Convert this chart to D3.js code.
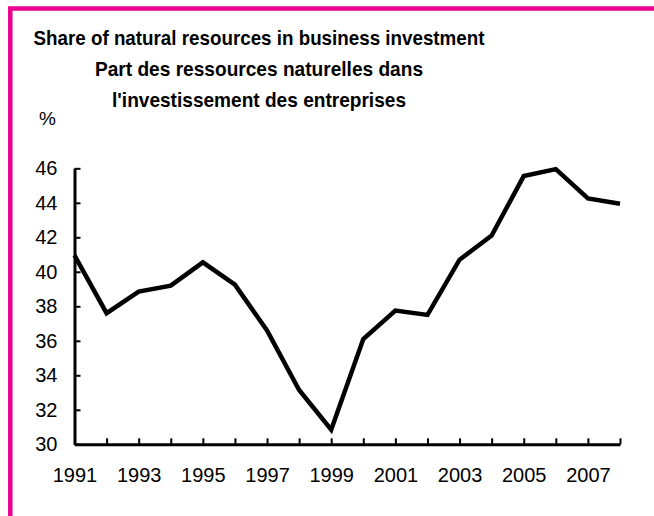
<!DOCTYPE html>
<html>
<head>
<meta charset="utf-8">
<script src="https://cdn.jsdelivr.net/npm/d3@7"></script>
<style>
  body { margin: 0; background: #fff; }
  svg { display: block; font-family: "Liberation Sans", Arial, sans-serif; }
</style>
</head>
<body>
<div class="canvas"></div>
<script>
// data
const years = [1991, 1992, 1993, 1994, 1995, 1996, 1997, 1998, 1999, 2000,
  2001, 2002, 2003, 2004, 2005, 2006, 2007, 2008];
const share = [40.95, 37.6, 38.85, 39.2, 40.55, 39.25, 36.6, 33.15, 30.85, 36.1,
  37.75, 37.5, 40.7, 42.1, 45.55, 45.95, 44.25, 43.95];
const yTicks = [30, 32, 34, 36, 38, 40, 42, 44, 46];
const titleLines = [
  'Share of natural resources in business investment',
  'Part des ressources naturelles dans',
  "l'investissement des entreprises"
];
// title is drawn a little condensed in the original
const titleWidths = [451, 328, 294];

const width = 654;
const height = 516;

const svg = d3.select('.canvas')
  .append('svg')
    .attr('width', width)
    .attr('height', height);

// pink frame (only top and left edges show)
svg.append('path')
  .attr('d', `M10.3,${height} V8.5 H${width}`)
  .attr('fill', 'none')
  .attr('stroke', '#ec008c')
  .attr('stroke-width', 4.5);

// title
svg.append('g')
  .selectAll('text')
  .data(titleLines)
  .enter()
  .append('text')
    .attr('x', 259)
    .attr('y', (d, i) => 45 + i * 31)
    .attr('text-anchor', 'middle')
    .attr('font-weight', 'bold')
    .attr('font-size', 21)
    .attr('textLength', (d, i) => titleWidths[i])
    .attr('lengthAdjust', 'spacingAndGlyphs')
    .attr('fill', '#000')
    .text(d => d);

svg.append('text')
  .attr('x', 39)
  .attr('y', 125)
  .attr('font-size', 19)
  .text('%');

const x = d3.scaleLinear()
  .domain([1991, 2008])
  .range([74.5, 620]);

const y = d3.scaleLinear()
  .domain([30, 46])
  .range([444.3, 168.3]);

const xAxis = d3.axisBottom(x)
  .tickValues(years)
  .tickSizeInner(-6)
  .tickSizeOuter(0)
  .tickPadding(24)
  .tickFormat(d => d % 2 === 1 ? d : '');

const yAxis = d3.axisLeft(y)
  .tickValues(yTicks)
  .tickSizeInner(-6)
  .tickSizeOuter(0)
  .tickPadding(17);

const xAxisGroup = svg.append('g')
  .attr('transform', `translate(0, ${y(30)})`)
  .call(xAxis);

const yAxisGroup = svg.append('g')
  .attr('transform', `translate(${x(1991)}, 0)`)
  .call(yAxis);

[xAxisGroup, yAxisGroup].forEach(g => {
  g.attr('font-family', null).attr('font-size', 20);
  g.select('.domain').attr('stroke', '#000').attr('stroke-width', 3);
  g.selectAll('.tick line').attr('stroke', '#000').attr('stroke-width', 2);
  g.selectAll('.tick text').attr('fill', '#000');
});

// the series line
const line = d3.line()
  .x((d, i) => x(years[i]))
  .y(d => y(d));

svg.append('path')
  .datum(share)
  .attr('d', line)
  .attr('fill', 'none')
  .attr('stroke', '#000')
  .attr('stroke-width', 4.5)
  .attr('stroke-linejoin', 'miter');
</script>
</body>
</html>
